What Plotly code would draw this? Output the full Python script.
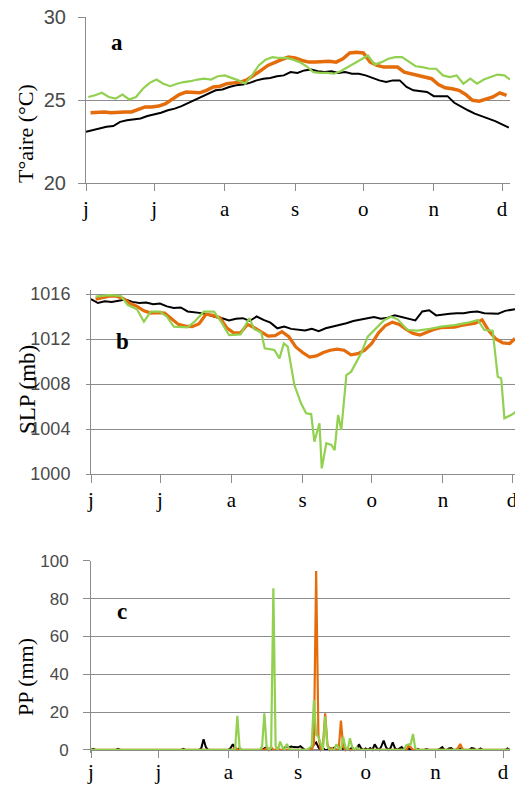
import plotly.graph_objects as go

W, H = 515, 786

# ---------------- data ----------------
month_ticks = [0, 30, 61, 92, 122, 153, 183]
month_labels = ["j", "j", "a", "s", "o", "n", "d"]

# Panel a: air temperature (°C)
ta_black_day = list(range(0, 187, 3))
ta_black = [23.1, 23.2, 23.3, 23.4, 23.45, 23.7, 23.8, 23.85, 23.9, 24.05, 24.15, 24.25, 24.4, 24.5,
            24.65, 24.85, 25.0, 25.2, 25.45, 25.6, 25.65, 25.8, 25.9, 25.95, 26.05, 26.2, 26.3, 26.35,
            26.45, 26.5, 26.7, 26.65, 26.8, 26.85, 26.75, 26.7, 26.75, 26.65, 26.7, 26.6, 26.6, 26.5,
            26.35, 26.2, 26.1, 26.2, 26.2, 25.8, 25.6, 25.55, 25.5, 25.25, 25.25, 25.25, 24.85, 24.6,
            24.4, 24.2, 24.05, 23.9, 23.75, 23.55, 23.35]
ta_orange_day = list(range(2, 186, 3))
ta_orange = [24.25, 24.3, 24.3, 24.25, 24.3, 24.3, 24.3, 24.45, 24.6, 24.6, 24.65, 24.8, 25.05, 25.35,
             25.5, 25.5, 25.45, 25.6, 25.8, 25.85, 26.0, 26.05, 26.1, 26.25, 26.5, 26.8, 27.1, 27.3,
             27.45, 27.6, 27.55, 27.4, 27.3, 27.3, 27.35, 27.35, 27.3, 27.5, 27.85, 27.9, 27.85, 27.3,
             27.1, 27.0, 27.0, 27.0, 26.7, 26.6, 26.5, 26.4, 26.3, 25.95, 25.75, 25.7, 25.6, 25.35,
             25.0, 24.95, 25.05, 25.2, 25.45, 25.3]
ta_green_day = list(range(1, 185, 3)) + [186.5]
ta_green = [25.2, 25.3, 25.45, 25.2, 25.1, 25.35, 25.05, 25.2, 25.7, 26.05, 26.25, 26.0, 25.85, 26.0,
            26.1, 26.15, 26.25, 26.3, 26.25, 26.45, 26.5, 26.35, 26.2, 26.0, 26.5, 27.1, 27.45, 27.6,
            27.55, 27.55, 27.45, 27.3, 27.05, 26.7, 26.65, 26.65, 26.6, 26.75, 27.0, 27.2, 27.45, 27.7,
            27.15, 27.3, 27.5, 27.6, 27.6, 27.3, 27.05, 27.0, 26.9, 26.9, 26.5, 26.4, 26.5, 26.0,
            26.3, 26.0, 26.25, 26.4, 26.55, 26.5, 26.25]

# Panel b: sea level pressure (mb)
slp_black_day = list(range(0, 184, 3)) + [184.3]
slp_black = [1015.55, 1015.2, 1015.35, 1015.3, 1015.4, 1015.5, 1015.3, 1015.2, 1015.25, 1015.1, 1015.15,
             1014.9, 1014.75, 1014.8, 1014.45, 1014.4, 1014.3, 1014.15, 1013.95, 1013.85, 1013.65,
             1013.8, 1013.85, 1013.6, 1014.0, 1013.7, 1013.45, 1012.95, 1013.1, 1012.9, 1012.85,
             1012.75, 1012.9, 1012.7, 1012.95, 1013.1, 1013.2, 1013.4, 1013.6, 1013.7, 1013.85,
             1013.95, 1013.8, 1013.9, 1014.1, 1013.95, 1013.8, 1013.65, 1014.45, 1014.55, 1014.1,
             1014.2, 1014.25, 1014.3, 1014.3, 1014.4, 1014.45, 1014.3, 1014.3, 1014.25, 1014.5,
             1014.6, 1014.65]
slp_orange_day = list(range(2, 183, 3)) + [184.3]
slp_orange = [1015.55, 1015.7, 1015.8, 1015.8, 1015.6, 1015.15, 1014.9, 1014.5, 1014.3, 1014.35, 1014.3,
              1013.8, 1013.3, 1013.15, 1013.1, 1013.35, 1014.2, 1014.1, 1013.9, 1013.0, 1012.55,
              1012.55, 1013.3, 1013.0, 1012.6, 1012.25, 1012.3, 1012.65, 1012.2, 1011.3, 1010.8,
              1010.4, 1010.5, 1010.8, 1011.0, 1011.1, 1011.0, 1010.6, 1010.7, 1011.0, 1011.6,
              1012.55, 1013.2, 1013.5, 1013.3, 1012.85, 1012.5, 1012.35, 1012.6, 1012.85, 1013.0,
              1013.05, 1013.05, 1013.2, 1013.3, 1013.4, 1013.7, 1012.7, 1012.0, 1011.65, 1011.6,
              1012.05]
slp_green_day = [2, 8, 13, 16, 20, 23, 26, 30, 33, 36, 42, 45, 49, 53.5, 57, 60, 65, 68.8, 71, 74, 75.5,
                 79.7, 81.9, 83.8, 85.5, 88.4, 91.3, 93.5, 95.7, 97.1, 99.3, 100.3, 102.3, 104.5, 105.9,
                 107.4, 108.8, 111, 113.1, 115.3, 117.4, 120.3, 123.2, 127.5, 130.4, 133.3, 137.6, 142,
                 146.4, 152.2, 158, 163.8, 168.1, 171, 174.6, 176.8, 178.3, 179.7, 182.6, 184.8]
slp_green = [1015.76, 1015.9, 1015.82, 1015.02, 1014.64, 1013.54, 1014.43, 1014.43, 1013.98, 1013.1,
             1013.04, 1013.54, 1014.43, 1014.43, 1013.39, 1012.35, 1012.41, 1013.84, 1012.87, 1012.6,
             1011.17, 1011.02, 1010.28, 1011.61, 1011.32, 1007.91, 1006.28, 1005.39, 1005.33, 1002.87,
             1004.5, 1000.5, 1002.73, 1002.58, 1002.13, 1005.24, 1003.91, 1008.8, 1009.1, 1009.99,
             1010.73, 1012.21, 1012.8, 1013.69, 1013.98, 1013.75, 1012.8, 1012.74, 1012.87, 1013.1,
             1013.24, 1013.45, 1013.69, 1012.8, 1012.74, 1008.65, 1008.5, 1004.95, 1005.24, 1005.54]

# Panel c: precipitation (mm), days with rain (all other days read as 0)
pp_days = list(range(0, 187))
pp_black_rain = {1: 0.6, 12: 0.6, 41: 0.6, 49: 1, 50: 5.6, 51: 1.5, 62: 1, 63: 3, 64: 0.8, 66: 1,
                 77: 0.8, 78: 1.5, 80: 0.8, 86: 1.2, 87: 1.8, 88: 1.5, 89: 1.8, 90: 1.5, 91: 1.6,
                 92: 1.4, 93: 2, 94: 1.2, 98: 1.5, 99: 3, 100: 4, 101: 1.5, 103: 1, 106: 1, 108: 1.2,
                 112: 1, 114: 1, 116: 1.5, 119: 3, 120: 0.8, 122: 0.8, 124: 1, 126: 3, 127: 1, 129: 2,
                 130: 5, 131: 1.5, 133: 1, 134: 4, 135: 1, 137: 1, 138: 1.5, 141: 1, 145: 0.6,
                 149: 0.5, 155: 0.6, 156: 1.5, 159: 0.8, 160: 1, 164: 0.8, 169: 1, 170: 0.8,
                 173: 0.8, 185: 0.8}
pp_orange_rain = {64: 1.5, 78: 1, 80: 1.5, 83: 1, 99: 3, 100: 94.5, 101: 8, 103: 2, 104: 19.4,
                  105: 3, 107: 1, 111: 15.5, 112: 2, 114: 1, 141: 2, 142: 1.5, 163: 1, 164: 3.2,
                  165: 0.5}
pp_green_rain = {65: 18, 66: 1, 76: 2, 77: 19.4, 78: 2, 80: 1, 81: 85.4, 82: 2, 84: 4.4, 85: 1.5,
                 87: 3.2, 88: 0.5, 97: 1, 98: 2, 99: 26.4, 100: 8, 101: 7, 102: 3, 104: 17.6, 105: 2,
                 109: 3, 110: 1, 112: 6.8, 113: 1.5, 115: 6.2, 116: 1.5, 118: 1.4, 140: 2.5, 141: 3,
                 142: 3, 143: 8.5, 144: 1}

pp_black = [pp_black_rain.get(d, 0) for d in pp_days]
pp_orange = [pp_orange_rain.get(d, 0) for d in pp_days]
pp_green = [pp_green_rain.get(d, 0) for d in pp_days]

# ---------------- style ----------------
BLACK = "#000000"
ORANGE = "#E46C0A"
GREEN = "#92D050"
GRID = "#8C8C8C"
SERIF = "Liberation Serif, Times New Roman, serif"
SANS = "Liberation Sans, Arial, sans-serif"


def px_x(p):
    return p / W


def px_y(p):
    return 1 - p / H


fig = go.Figure()

def add(x, y, color, width, xa, ya):
    fig.add_trace(go.Scatter(x=x, y=y, mode="lines", line=dict(color=color, width=width),
                             xaxis=xa, yaxis=ya, showlegend=False, hoverinfo="skip"))

add(ta_black_day, ta_black, BLACK, 2, "x", "y")
add(ta_orange_day, ta_orange, ORANGE, 3.5, "x", "y")
add(ta_green_day, ta_green, GREEN, 2.2, "x", "y")

add(slp_black_day, slp_black, BLACK, 2, "x2", "y2")
add(slp_orange_day, slp_orange, ORANGE, 3.2, "x2", "y2")
add(slp_green_day, slp_green, GREEN, 2.2, "x2", "y2")

add(pp_days, pp_black, BLACK, 2, "x3", "y3")
add(pp_days, pp_orange, ORANGE, 2.2, "x3", "y3")
add(pp_days, pp_green, GREEN, 2.2, "x3", "y3")


def xaxis(domain, rng, anchor, position=None, ticklen=7, standoff=-1):
    d = dict(domain=domain, range=rng, anchor=anchor, tickmode="array", tickvals=month_ticks,
             ticktext=month_labels, ticks="outside", ticklen=ticklen, tickcolor=GRID, tickwidth=1,
             showline=True, linecolor=GRID, linewidth=1, showgrid=False, zeroline=False,
             tickfont=dict(family=SERIF, size=21, color="#000000"), ticklabelstandoff=standoff,
             ticklabeloverflow="allow", automargin=False)
    if position is not None:
        d["position"] = position
    return d


def yaxis(domain, rng, anchor, tickvals, ticklen, fsize, standoff):
    return dict(domain=domain, range=rng, anchor=anchor, tickmode="array", tickvals=tickvals,
                ticks="outside", ticklen=ticklen, tickcolor=GRID, tickwidth=1,
                showline=True, linecolor=GRID, linewidth=1, showgrid=True, gridcolor=GRID,
                gridwidth=1, zeroline=False,
                tickfont=dict(family=SANS, size=fsize, color="#4a4a4a"),
                ticklabelstandoff=standoff, automargin=False)


fig.update_layout(
    width=W, height=H, autosize=False,
    margin=dict(l=0, r=0, t=0, b=0, pad=0, autoexpand=False),
    paper_bgcolor="white", plot_bgcolor="white",
    xaxis=xaxis([px_x(86), px_x(510)], [0, 186.5], "y"),
    yaxis=yaxis([px_y(183.3), px_y(17.3)], [20, 30], "x", [20, 25, 30], 7, 20, 8),
    xaxis2=xaxis([px_x(91), 1.0], [0, 184.3], "y2", ticklen=8),
    yaxis2=yaxis([px_y(474), px_y(289.5)], [1000, 1016.4], "x2", [1000, 1004, 1008, 1012, 1016], 4, 18, 12),
    xaxis3=xaxis([px_x(91), px_x(510)], [0, 186.1], "free", position=px_y(750), ticklen=7, standoff=-4),
    yaxis3=yaxis([px_y(752.8), px_y(560.7)], [-1.5, 100], "x3", [0, 20, 40, 60, 80, 100], 7, 17, 11),
)

annotations = [
    dict(text="<b>a</b>", x=px_x(117), y=px_y(43)),
    dict(text="<b>b</b>", x=px_x(122), y=px_y(341)),
    dict(text="<b>c</b>", x=px_x(122), y=px_y(611)),
]
for a in annotations:
    a.update(xref="paper", yref="paper", showarrow=False, xanchor="center", yanchor="middle",
             font=dict(family=SERIF, size=23, color="#000000"))
titles = [
    dict(text="T°aire (°C)", x=px_x(25), y=px_y(134), size=22),
    dict(text="SLP (mb)", x=px_x(27), y=px_y(390), size=23),
    dict(text="PP (mm)", x=px_x(25), y=px_y(677), size=22),
]
title_anns = []
for t in titles:
    size = t.pop("size")
    t.update(xref="paper", yref="paper", showarrow=False, xanchor="center", yanchor="middle",
             textangle=-90, font=dict(family=SERIF, size=size, color="#000000"))
    title_anns.append(t)
fig.update_layout(annotations=annotations + title_anns)

fig.write_html("out.html")
